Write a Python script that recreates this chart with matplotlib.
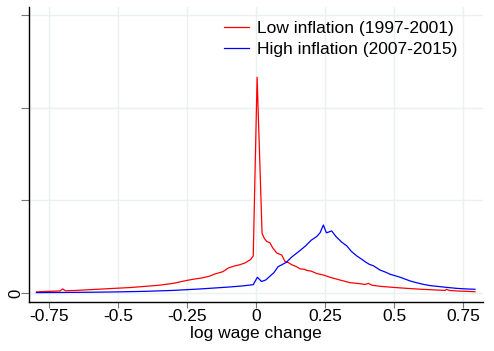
import matplotlib
matplotlib.use("Agg")
import matplotlib.pyplot as plt

plt.rcParams['font.family'] = ['Liberation Sans', 'DejaVu Sans']

# Low inflation (1997-2001)
low_x = [-0.795, -0.75, -0.71, -0.70, -0.69, -0.65, -0.60, -0.55, -0.50, -0.45, -0.40,
         -0.35, -0.30, -0.25, -0.22, -0.20, -0.17, -0.15, -0.12, -0.10, -0.08, -0.06,
         -0.04, -0.02, -0.01, 0.004, 0.022, 0.03, 0.039, 0.05, 0.06, 0.075, 0.093,
         0.105, 0.117, 0.13, 0.147, 0.16, 0.175, 0.184, 0.20, 0.22, 0.244, 0.268,
         0.304, 0.34, 0.377, 0.395, 0.407, 0.42, 0.45, 0.50, 0.546, 0.60, 0.655,
         0.685, 0.69, 0.70, 0.727, 0.76, 0.793]
low_y = [0.06, 0.09, 0.11, 0.22, 0.12, 0.14, 0.18, 0.22, 0.26, 0.30, 0.36,
         0.42, 0.52, 0.68, 0.76, 0.80, 0.90, 1.02, 1.15, 1.35, 1.45, 1.52,
         1.62, 1.80, 2.00, 11.65, 3.22, 2.95, 2.78, 2.72, 2.45, 2.16, 2.05,
         1.70, 1.64, 1.52, 1.42, 1.30, 1.28, 1.22, 1.18, 1.05, 0.97, 0.85,
         0.70, 0.56, 0.50, 0.46, 0.52, 0.42, 0.36, 0.30, 0.25, 0.20, 0.16,
         0.14, 0.20, 0.14, 0.11, 0.09, 0.07]

# High inflation (2007-2015)
high_x = [-0.795, -0.70, -0.60, -0.50, -0.40, -0.30, -0.20, -0.10, -0.05, -0.01,
          0.005, 0.02, 0.035, 0.05, 0.065, 0.08, 0.093, 0.11, 0.13, 0.16, 0.18,
          0.20, 0.22, 0.232, 0.244, 0.255, 0.265, 0.274, 0.29, 0.31, 0.329,
          0.345, 0.365, 0.38, 0.395, 0.41, 0.425, 0.449, 0.47, 0.486, 0.50,
          0.522, 0.54, 0.558, 0.58, 0.605, 0.63, 0.667, 0.70, 0.727, 0.76, 0.793]
high_y = [0.02, 0.03, 0.04, 0.06, 0.09, 0.14, 0.22, 0.32, 0.38, 0.45,
          0.85, 0.62, 0.70, 0.90, 1.10, 1.42, 1.52, 1.66, 1.95, 2.30, 2.55,
          2.85, 3.05, 3.25, 3.67, 3.25, 3.30, 3.35, 3.04, 2.75, 2.54,
          2.25, 2.00, 1.85, 1.69, 1.55, 1.47, 1.24, 1.12, 1.01, 0.95,
          0.85, 0.75, 0.65, 0.56, 0.47, 0.40, 0.34, 0.29, 0.25, 0.22, 0.20]

x_ticks = [-0.75, -0.5, -0.25, 0, 0.25, 0.5, 0.75]
x_tick_labels = ['-0.75', '-0.5', '-0.25', '0', '0.25', '0.5', '0.75']
y_ticks = [0, 5, 10, 15]
y_tick_labels = ['0', '', '', '']

FS = 12.5
fig = plt.figure(figsize=(4.94, 3.51), dpi=100)
W, H = 494, 351
ax = fig.add_axes([29 / W, (H - 301.7) / H, (483 - 29) / W, (301.7 - 7) / H])

grid_col = '#eaf1f3'
ax.plot(low_x, low_y, color='#ff0000', lw=0.9, label='Low inflation (1997-2001)', zorder=3)
ax.plot(high_x, high_y, color='#0000ff', lw=0.9, label='High inflation (2007-2015)', zorder=3)

ax.set_xlim(-0.822, 0.822)
ax.set_ylim(-0.47, 15.44)
ax.set_xticks(x_ticks)
ax.set_xticklabels(x_tick_labels, fontsize=FS)
ax.set_yticks(y_ticks)
ax.set_yticklabels(y_tick_labels, fontsize=FS - 0.5, rotation=90, va='center')
ax.grid(True, color=grid_col, lw=1.0, zorder=0)
ax.set_axisbelow(True)
for s in ['top', 'right']:
    ax.spines[s].set_visible(False)
ax.spines['left'].set_color('black')
ax.spines['bottom'].set_color('black')
ax.spines['left'].set_linewidth(1.0)
ax.spines['bottom'].set_linewidth(1.0)
ax.tick_params(axis='x', length=4, color='#777777', width=0.8, pad=1.5)
ax.tick_params(axis='y', length=6, color='#777777', width=0.8, pad=-2)
ax.set_xlabel('log wage change', fontsize=FS, labelpad=1.5)

leg = ax.legend(loc='upper left', bbox_to_anchor=(224 / W, 1 - 20.5 / H),
                bbox_transform=fig.transFigure, frameon=False, fontsize=FS,
                handlelength=1.44, handletextpad=0.46, labelspacing=0.38,
                borderaxespad=0, borderpad=0)

fig.savefig('out.png', dpi=100)
